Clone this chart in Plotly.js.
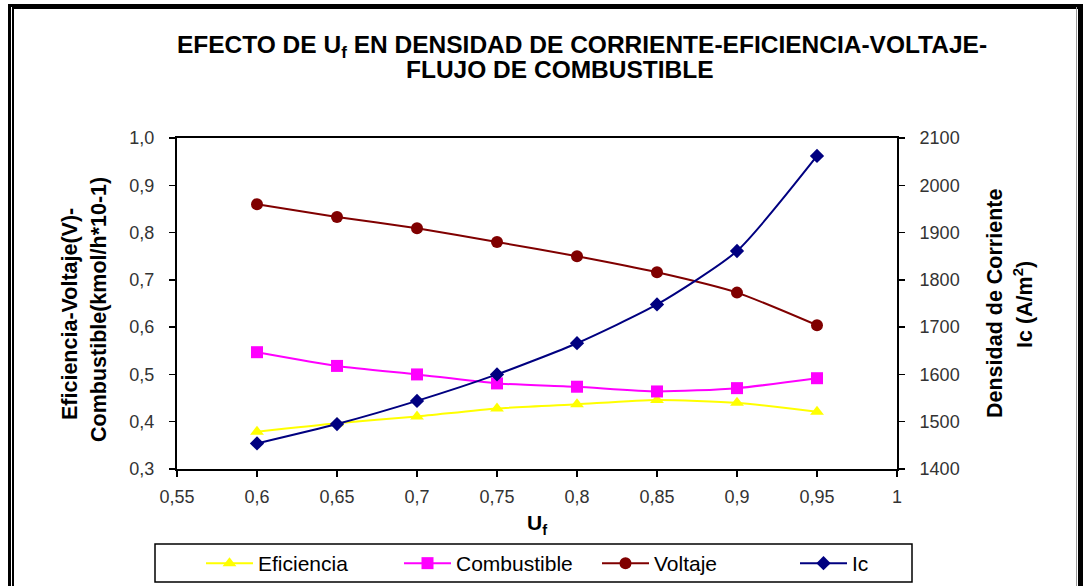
<!DOCTYPE html>
<html>
<head>
<meta charset="utf-8">
<script src="https://cdn.plot.ly/plotly-3.0.1.min.js"></script>
<style>
  html, body { margin: 0; padding: 0; background: #ffffff; }
  #wrap { position: relative; width: 1083px; height: 586px; overflow: hidden; }
  #chart { position: absolute; left: 0; top: 0; width: 1083px; height: 586px; }
  .frame { position: absolute; background: #000; pointer-events: none; }
</style>
</head>
<body>
<div id="wrap">
  <div id="chart"></div>
  <!-- double-line chart frame -->
  <div class="frame" style="left:8px; top:4px; width:1075px; height:3px;"></div>
  <div class="frame" style="left:12px; top:7px; width:1066px; height:2px;"></div>
  <div class="frame" style="left:8px; top:4px; width:3px; height:582px;"></div>
  <div class="frame" style="left:12px; top:7px; width:2px; height:579px;"></div>
  <div class="frame" style="left:1078px; top:4px; width:5px; height:582px;"></div>
  <div class="frame" style="left:1076px; top:7px; width:1px; height:579px; background:#9a9a9a;"></div>
</div>
<script>
// Fuel utilisation Uf
const uf = [0.6, 0.65, 0.7, 0.75, 0.8, 0.85, 0.9, 0.95];

// Left axis series
const eficiencia  = [0.379, 0.397, 0.411, 0.428, 0.437, 0.446, 0.440, 0.421];
const combustible = [0.547, 0.518, 0.500, 0.481, 0.474, 0.464, 0.471, 0.492];
const voltaje     = [0.860, 0.833, 0.809, 0.780, 0.750, 0.716, 0.673, 0.604];

// Right axis series: current density (A/m2)
const ic = [1454, 1495, 1544, 1600, 1666, 1748, 1861, 2062];

const FONT = '"Liberation Sans", Arial, sans-serif';

// plot-area geometry in pixels, used to place the frame pieces in paper units
const PL = 177, PR = 897, PT = 138, PB = 469;
const px = v => (v - PL) / (PR - PL);
const py = v => (PB - v) / (PB - PT);

const traces = [
  {
    x: uf, y: eficiencia, name: 'Eficiencia', type: 'scatter', mode: 'lines+markers',
    line: { color: '#FFFF00', width: 2, shape: 'spline', smoothing: 0.6 },
    marker: { symbol: 'triangle-up', size: 12, color: '#FFFF00' }
  },
  {
    x: uf, y: combustible, name: 'Combustible', type: 'scatter', mode: 'lines+markers',
    line: { color: '#FF00FF', width: 2, shape: 'spline', smoothing: 0.6 },
    marker: { symbol: 'square', size: 12, color: '#FF00FF' }
  },
  {
    x: uf, y: voltaje, name: 'Voltaje', type: 'scatter', mode: 'lines+markers',
    line: { color: '#800000', width: 2, shape: 'spline', smoothing: 0.6 },
    marker: { symbol: 'circle', size: 12, color: '#800000' }
  },
  {
    x: uf, y: ic, name: 'Ic', type: 'scatter', mode: 'lines+markers', yaxis: 'y2',
    line: { color: '#000080', width: 2, shape: 'spline', smoothing: 0.6 },
    marker: { symbol: 'diamond', size: 11, color: '#000080' }
  }
];

const tickFont = { family: FONT, size: 18, color: '#333333' };
const boldFont = { family: FONT, size: 21.5, color: '#000000', weight: 'bold' };
const titleFont = { family: FONT, size: 24.5, color: '#000000' };

const layout = {
  width: 1083,
  height: 586,
  margin: { l: PL, r: 1083 - PR, t: PT, b: 586 - PB, pad: 0, autoexpand: false },
  paper_bgcolor: '#ffffff',
  plot_bgcolor: '#ffffff',
  separators: ',.',
  font: { family: FONT, color: '#000000' },
  showlegend: true,
  title: {
    text: '<b>EFECTO DE U<sub>f</sub> EN DENSIDAD DE CORRIENTE-EFICIENCIA-VOLTAJE-</b>',
    font: titleFont,
    x: 582 / 1083, xanchor: 'center', xref: 'container',
    y: 1 - 44 / 586, yanchor: 'middle', yref: 'container'
  },
  xaxis: {
    range: [0.55, 1.0], dtick: 0.05, tick0: 0.55,
    showgrid: false, zeroline: false,
    showline: true, linecolor: '#000000', linewidth: 2, mirror: true,
    ticks: 'outside', ticklen: 6, tickwidth: 1.5, tickcolor: '#000000',
    tickfont: tickFont, ticklabelstandoff: 4,
    title: { text: '<b>U<sub>f</sub></b>', font: { family: FONT, size: 21, color: '#000000' }, standoff: 10 }
  },
  yaxis: {
    range: [0.3, 1.0], dtick: 0.1, tick0: 0.3, tickformat: '.1f',
    showgrid: false, zeroline: false,
    showline: true, linecolor: '#000000', linewidth: 2,
    ticks: 'outside', ticklen: 6, tickwidth: 1.5, tickcolor: '#000000',
    tickfont: tickFont, ticklabelstandoff: 11
  },
  yaxis2: {
    overlaying: 'y', side: 'right',
    range: [1400, 2100], dtick: 100, tick0: 1400,
    showgrid: false, zeroline: false,
    showline: true, linecolor: '#000000', linewidth: 2,
    ticks: 'outside', ticklen: 6, tickwidth: 1.5, tickcolor: '#000000',
    tickfont: tickFont, ticklabelstandoff: 11
  },
  legend: {
    orientation: 'h',
    x: px(993), xanchor: 'right',
    y: py(543), yanchor: 'top',
    font: { family: FONT, size: 21, color: '#000000' },
    bgcolor: 'rgba(0,0,0,0)',
    borderwidth: 0,
    itemwidth: 47,
    entrywidth: 136, entrywidthmode: 'pixels',
    traceorder: 'normal'
  },
  shapes: [
    {
      type: 'rect', xref: 'paper', yref: 'paper',
      x0: px(155), x1: px(912), y0: py(582), y1: py(544),
      line: { color: '#000000', width: 1.5 }, fillcolor: 'rgba(0,0,0,0)'
    }
  ],
  annotations: [
    {
      text: '<b>FLUJO DE COMBUSTIBLE</b>',
      xref: 'paper', yref: 'paper', x: px(560), y: py(70),
      xanchor: 'center', yanchor: 'middle', showarrow: false,
      font: titleFont
    },
    {
      text: '<b>Eficiencia-Voltaje(V)-</b>', textangle: -90,
      xref: 'paper', yref: 'paper', x: px(70), y: py(314),
      xanchor: 'center', yanchor: 'middle', showarrow: false,
      font: boldFont
    },
    {
      text: '<b>Combustible(kmol/h*10-1)</b>', textangle: -90,
      xref: 'paper', yref: 'paper', x: px(99), y: py(310),
      xanchor: 'center', yanchor: 'middle', showarrow: false,
      font: boldFont
    },
    {
      text: '<b>Densidad de Corriente</b>', textangle: -90,
      xref: 'paper', yref: 'paper', x: px(995), y: py(304),
      xanchor: 'center', yanchor: 'middle', showarrow: false,
      font: boldFont
    },
    {
      text: '<b>Ic (A/m<sup>2</sup>)</b>', textangle: -90,
      xref: 'paper', yref: 'paper', x: px(1023), y: py(305),
      xanchor: 'center', yanchor: 'middle', showarrow: false,
      font: boldFont
    }
  ]
};

Plotly.newPlot('chart', traces, layout, { staticPlot: true, displayModeBar: false });
</script>
</body>
</html>
